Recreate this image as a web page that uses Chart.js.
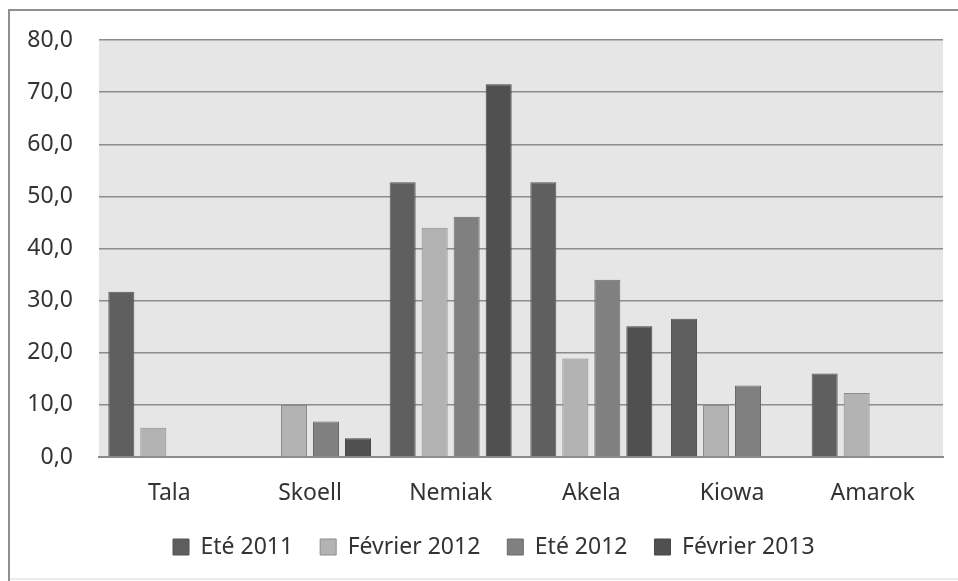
<!DOCTYPE html>
<html>
<head>
<meta charset="utf-8">
<script src="https://cdn.jsdelivr.net/npm/chart.js@4/dist/chart.umd.min.js"></script>
<style>
  html, body { margin: 0; padding: 0; background: #ffffff; }
  #wrap { position: relative; width: 958px; height: 581px; }
</style>
</head>
<body>
<div id="wrap"><canvas id="c"></canvas></div>
<script>
const categories = ['Tala', 'Skoell', 'Nemiak', 'Akela', 'Kiowa', 'Amarok'];
const seriesNames = ['Eté 2011', 'Février 2012', 'Eté 2012', 'Février 2013'];
const ete2011 = [31.7, null, 52.7, 52.7, 26.5, 16.0];
const fevrier2012 = [5.6, 10.0, 44.0, 18.9, 10.0, 12.3];
const ete2012 = [null, 6.8, 46.1, 34.0, 13.7, null];
const fevrier2013 = [null, 3.6, 71.5, 25.1, null, null];
const yTickValues = [0, 10, 20, 30, 40, 50, 60, 70, 80];

const fills = ['#5f5f5f', '#b3b3b3', '#808080', '#505050'];
const borders = ['#555555', '#8c8c8c', '#6a6a6a', '#474747'];
const seriesData = [ete2011, fevrier2012, ete2012, fevrier2013];

const FONT = "'Noto Sans', 'Open Sans', sans-serif";

const framePlugin = {
  id: 'frame',
  beforeDraw(chart) {
    const ctx = chart.ctx;
    const a = chart.chartArea;
    ctx.save();
    ctx.fillStyle = '#ffffff';
    ctx.fillRect(0, 0, chart.width, chart.height);
    ctx.fillStyle = '#e6e6e6';
    ctx.fillRect(a.left, a.top, a.right - a.left, a.bottom - a.top);
    ctx.strokeStyle = '#8f8f8f';
    ctx.lineWidth = 2;
    ctx.beginPath();
    ctx.moveTo(9, chart.height);
    ctx.lineTo(9, 10);
    ctx.lineTo(chart.width, 10);
    ctx.stroke();
    ctx.strokeStyle = '#ececec';
    ctx.lineWidth = 2;
    ctx.beginPath();
    ctx.moveTo(10, 579);
    ctx.lineTo(chart.width, 579);
    ctx.stroke();
    ctx.restore();
  },
  afterLayout(chart) {
    const lg = chart.legend;
    if (!lg) return;
    const pad = lg.options.labels.padding;
    const dx = 173 - (lg.left + pad);
    lg.left += dx; lg.right += dx;
    const dy = 508.5 - lg.top;
    lg.top += dy; lg.bottom += dy;
  }
};

new Chart(document.getElementById('c'), {
  type: 'bar',
  data: {
    labels: categories,
    datasets: seriesNames.map((name, i) => ({
      label: name,
      data: seriesData[i],
      backgroundColor: fills[i],
      borderColor: borders[i],
      borderWidth: 1,
      categoryPercentage: 0.91,
      barPercentage: 0.8125
    }))
  },
  options: {
    responsive: true,
    maintainAspectRatio: false,
    animation: false,
    layout: { padding: { left: 10, right: 15, top: 40, bottom: 0 } },
    plugins: {
      tooltip: { enabled: false },
      legend: {
        position: 'bottom',
        align: 'start',
        labels: {
          boxWidth: 16,
          boxHeight: 16,
          padding: 27,
          color: '#333333',
          font: { family: FONT, size: 23 }
        }
      }
    },
    scales: {
      x: {
        afterFit(scale) { scale.height = 64; },
        grid: { display: false, drawTicks: false },
        border: { display: true, color: '#8c8c8c', width: 2 },
        ticks: { color: '#333333', font: { family: FONT, size: 23 }, padding: 23 }
      },
      y: {
        min: 0,
        max: 80,
        afterBuildTicks(scale) { scale.ticks = yTickValues.map(v => ({ value: v })); },
        afterFit(scale) { scale.width = 89; },
        grid: { color: '#8c8c8c', lineWidth: 1.5, drawTicks: false },
        border: { display: false },
        ticks: {
          color: '#333333',
          font: { family: FONT, size: 23 },
          padding: 26,
          callback: v => Number(v).toFixed(1).replace('.', ',')
        }
      }
    }
  },
  plugins: [framePlugin]
});
</script>
</body>
</html>
